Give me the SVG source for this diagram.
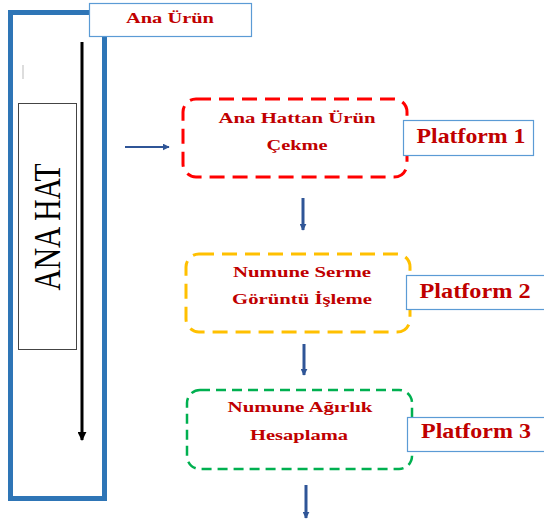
<svg xmlns="http://www.w3.org/2000/svg" width="544" height="522" viewBox="0 0 544 522">
<style>
.t{font-family:"Liberation Serif","Times New Roman",serif;font-weight:bold;fill:#C00000;text-anchor:middle}
.n{font-size:15px}
.p{font-size:20px}
.lbl{fill:#fff;stroke:#5B9BD5;stroke-width:1.2}
.con{stroke:#2F5597;fill:none}
</style>
<defs>
<marker id="ah" viewBox="0 0 10 10" refX="9" refY="5" markerWidth="7" markerHeight="7" markerUnits="userSpaceOnUse" orient="auto"><path d="M0,0 L10,5 L0,10 z" fill="#2F5597"/></marker>
<marker id="ahb" viewBox="0 0 10 10" refX="9" refY="5" markerWidth="7" markerHeight="7" markerUnits="userSpaceOnUse" orient="auto"><path d="M0,0 L10,5 L0,10 z" fill="#2F5597"/></marker>
<marker id="ak" viewBox="0 0 10 10" refX="9" refY="5" markerWidth="9" markerHeight="9" markerUnits="userSpaceOnUse" orient="auto"><path d="M0,0 L10,5 L0,10 z" fill="#000"/></marker>
</defs>
<g id="anahat">
<rect x="10.5" y="12.5" width="94" height="486" fill="#fff" stroke="#2E75B6" stroke-width="5"/>
<line x1="23" y1="65" x2="23" y2="79" stroke="#bbb" stroke-width="1"/>
<rect x="18.5" y="103.5" width="58" height="246" fill="#fff" stroke="#444" stroke-width="1"/>
<line x1="82" y1="42" x2="82" y2="440" stroke="#000" stroke-width="3" marker-end="url(#ak)"/>
<text transform="translate(60,227) rotate(-90)" font-family="Liberation Serif,'Times New Roman',serif" font-size="38" text-anchor="middle" textLength="127" lengthAdjust="spacingAndGlyphs" fill="#000">ANA HAT</text>
</g>
<g id="anaurun">
<rect class="lbl" x="89.5" y="3.5" width="162" height="33"/>
<text class="t n" x="170" y="23" textLength="88" lengthAdjust="spacingAndGlyphs">Ana Ürün</text>
</g>
<g id="connectors">
<line class="con" x1="125" y1="147" x2="169" y2="147" stroke-width="1.8" marker-end="url(#ah)"/>
<line class="con" x1="303" y1="198" x2="303" y2="230" stroke-width="3" marker-end="url(#ahb)"/>
<line class="con" x1="304" y1="344" x2="304" y2="375" stroke-width="3" marker-end="url(#ahb)"/>
<line class="con" x1="306" y1="485" x2="306" y2="518" stroke-width="3" marker-end="url(#ahb)"/>
</g>
<g id="node1">
<rect x="183" y="99" width="224" height="78" rx="13" fill="#fff" stroke="#FF0000" stroke-width="3" stroke-dasharray="15 8"/>
<text class="t n" x="297" y="123" textLength="157" lengthAdjust="spacingAndGlyphs">Ana Hattan Ürün</text>
<text class="t n" x="297" y="150" textLength="61" lengthAdjust="spacingAndGlyphs">Çekme</text>
</g>
<g id="platform1">
<rect class="lbl" x="403.5" y="120.5" width="130" height="35"/>
<text class="t p" x="471" y="143" textLength="109" lengthAdjust="spacingAndGlyphs">Platform 1</text>
</g>
<g id="node2">
<rect x="186" y="254" width="224" height="78" rx="13" fill="#fff" stroke="#FFC000" stroke-width="3" stroke-dasharray="15 8"/>
<text class="t n" x="302" y="277" textLength="138" lengthAdjust="spacingAndGlyphs">Numune Serme</text>
<text class="t n" x="302" y="304" textLength="140" lengthAdjust="spacingAndGlyphs">Görüntü İşleme</text>
</g>
<g id="platform2">
<rect class="lbl" x="406.5" y="275.5" width="140" height="34"/>
<text class="t p" x="475" y="298" textLength="111" lengthAdjust="spacingAndGlyphs">Platform 2</text>
</g>
<g id="node3">
<rect x="187" y="390" width="225" height="79" rx="13" fill="#fff" stroke="#00B050" stroke-width="2.5" stroke-dasharray="10 6"/>
<text class="t n" x="300" y="412" textLength="145" lengthAdjust="spacingAndGlyphs">Numune Ağırlık</text>
<text class="t n" x="299" y="440" textLength="98" lengthAdjust="spacingAndGlyphs">Hesaplama</text>
</g>
<g id="platform3">
<rect class="lbl" x="407.5" y="417.5" width="140" height="34"/>
<text class="t p" x="476" y="438" textLength="110" lengthAdjust="spacingAndGlyphs">Platform 3</text>
</g>
</svg>
